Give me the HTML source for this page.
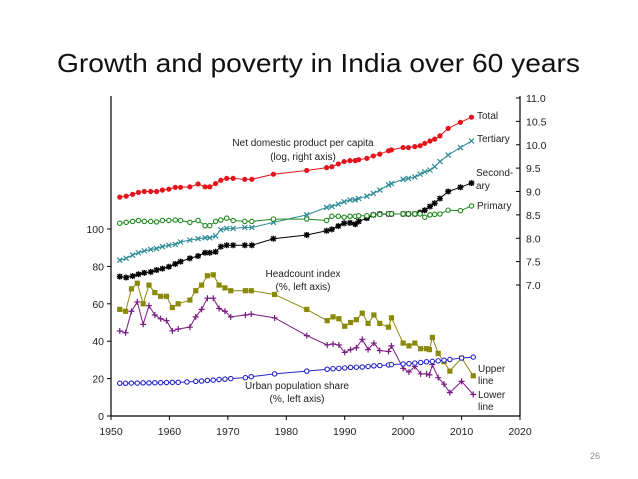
<!DOCTYPE html>
<html><head><meta charset="utf-8"><style>
body{margin:0;background:#fff;}
svg{display:block;font-family:"Liberation Sans",sans-serif;}
</style></head><body>
<svg id="chart" width="638" height="479" viewBox="0 0 638 479" xmlns="http://www.w3.org/2000/svg">
<text x="57" y="72" font-size="26" textLength="523" lengthAdjust="spacingAndGlyphs" fill="#111" font-family="Liberation Sans, sans-serif">Growth and poverty in India over 60 years</text>
<text x="590" y="459" font-size="9" fill="#888">26</text>
<g id="axes"></g>
<g id="series"></g>
<g font-size="10" fill="#222">
<text x="477" y="119">Total</text>
<text x="477" y="142">Tertiary</text>
<text x="476" y="176">Second-</text>
<text x="476" y="189">ary</text>
<text x="477" y="209">Primary</text>
<text x="303" y="146" text-anchor="middle">Net domestic product per capita</text>
<text x="303" y="160" text-anchor="middle">(log, right axis)</text>
<text x="303" y="277" text-anchor="middle">Headcount index</text>
<text x="303" y="290" text-anchor="middle">(%, left axis)</text>
<text x="297" y="389" text-anchor="middle">Urban population share</text>
<text x="297" y="402" text-anchor="middle">(%, left axis)</text>
<text x="478" y="372">Upper</text>
<text x="478" y="384">line</text>
<text x="478" y="398">Lower</text>
<text x="478" y="410">line</text>
</g>
</svg>
<script>
const xTicks=[1950,1960,1970,1980,1990,2000,2010,2020];
const leftTicks=[0,20,40,60,80,100];
const rightTicks=[7.0,7.5,8.0,8.5,9.0,9.5,10.0,10.5,11.0];
const ndpYears=[1951.5,1952.6,1953.7,1954.7,1955.7,1956.8,1957.8,1958.8,1959.9,1961,1961.9,1963.5,1964.9,1966.1,1966.9,1967.9,1968.8,1969.8,1970.9,1972.9,1974.1,1977.8,1983.5,1986.9,1987.8,1988.9,1989.9,1990.9,1991.8,1992.4,1993.8,1994.9,1996,1997.5,1998,2000,2000.9,2002,2002.9,2003.7,2004.6,2005.4,2006.3,2007.7,2009.8,2011.7];
const totalVals=[8.88,8.9,8.94,8.98,9.0,9.0,9.0,9.03,9.05,9.09,9.09,9.1,9.16,9.1,9.1,9.17,9.24,9.28,9.28,9.26,9.26,9.37,9.45,9.51,9.53,9.59,9.64,9.66,9.66,9.68,9.71,9.76,9.8,9.87,9.89,9.94,9.94,9.96,9.98,10.03,10.08,10.12,10.19,10.35,10.48,10.59];
const tertVals=[7.53,7.57,7.64,7.69,7.73,7.76,7.78,7.82,7.85,7.87,7.92,7.96,7.99,8.01,8.01,8.05,8.18,8.21,8.21,8.23,8.23,8.34,8.5,8.66,8.68,8.73,8.78,8.82,8.82,8.85,8.9,8.96,9.03,9.14,9.17,9.26,9.28,9.31,9.37,9.42,9.46,9.53,9.64,9.78,9.94,10.08];
const secVals=[7.18,7.16,7.19,7.23,7.26,7.28,7.32,7.35,7.39,7.45,7.5,7.57,7.62,7.69,7.69,7.71,7.82,7.85,7.85,7.85,7.85,7.99,8.07,8.16,8.19,8.26,8.32,8.33,8.3,8.36,8.43,8.5,8.52,8.52,8.52,8.52,8.52,8.52,8.55,8.6,8.68,8.75,8.85,9.0,9.09,9.18];
const primVals=[8.32,8.34,8.36,8.38,8.36,8.36,8.35,8.38,8.38,8.39,8.38,8.34,8.38,8.27,8.27,8.36,8.39,8.43,8.38,8.36,8.36,8.41,8.41,8.38,8.47,8.47,8.45,8.47,8.47,8.48,8.48,8.5,8.51,8.52,8.52,8.52,8.52,8.52,8.52,8.45,8.5,8.51,8.52,8.6,8.59,8.69];
const headYears=[1951.5,1952.5,1953.5,1954.5,1955.5,1956.5,1957.5,1958.5,1959.5,1960.5,1961.5,1963.5,1964.5,1965.5,1966.5,1967.5,1968.5,1969.5,1970.5,1973,1974,1978,1983.5,1987,1988,1989,1990,1991,1992,1993,1994,1995,1996,1997.5,1998,2000,2001,2002,2003,2004,2004.5,2005,2006,2007,2008,2010,2012];
const upperVals=[57,56,68,71,60,70,66,64,64,58,60,62,67,70,75,75.5,70,68.5,67,67,67,65,57,51,53,52,48,50,51.5,55,49.5,54,49.5,47.5,52.5,39,37.5,39,36,36,35.5,42,33.5,29,24,31,21.5];
const lowerVals=[45.5,44.5,56,61,49,59,54,52,51,45.5,46.5,47.5,53,57,63,63,57.5,56,53,54,54.5,52.5,43,38,38.5,38,34,35.5,36.5,41,35.5,39,35,34.5,37.5,25.5,23.5,26.5,22.5,22.5,22,27.5,20.5,17,12.5,18.5,11.5];
const urbanYears=[1951.5,1952.5,1953.5,1954.5,1955.5,1956.5,1957.5,1958.5,1959.5,1960.5,1961.5,1963,1964.5,1965.5,1966.5,1967.5,1968.5,1969.5,1970.5,1973,1974,1978,1983.5,1987,1988,1989,1990,1991,1992,1993,1994,1995,1996,1997.5,1998,2000,2001,2002,2003,2004,2005,2006,2007,2008,2010,2012];
const urbanVals=[17.5,17.5,17.6,17.6,17.7,17.7,17.8,17.8,17.9,18,18,18.2,18.5,18.7,19,19.2,19.5,19.7,20,20.5,21,22.5,24,25,25.3,25.5,25.7,26,26.1,26.2,26.5,26.8,27,27.3,27.5,27.8,28,28.3,28.6,29,29.2,29.5,29.8,30.2,31,31.5];

const NS='http://www.w3.org/2000/svg';
const X0=111,X1=520,YB=416;
const xs=y=>X0+(y-1950)/70*(X1-X0);
const yl=v=>YB-v*1.87;
const yr=v=>98+(11-v)*46.75;
function mk(tag,attrs,parent){const e=document.createElementNS(NS,tag);for(const k in attrs)e.setAttribute(k,attrs[k]);parent.appendChild(e);return e;}
const axes=document.getElementById('axes');
let e;
e=mk('line',{x1:X0,y1:96,x2:X0,y2:YB,stroke:'#000','stroke-width':1.2},axes);


e=mk('line',{x1:X1,y1:96,x2:X1,y2:YB,stroke:'#000','stroke-width':1.2},axes);


e=mk('line',{x1:X0,y1:YB,x2:X1,y2:YB,stroke:'#000','stroke-width':1.2},axes);


xTicks.forEach(t=>{
 mk('line',{x1:xs(t),y1:YB,x2:xs(t),y2:YB+4,stroke:'#000'},axes);
 e=mk('text',{x:xs(t),y:YB+19,'font-size':10.5,'text-anchor':'middle',fill:'#222'},axes);e.textContent=t;
 
 
});
leftTicks.forEach(t=>{
 mk('line',{x1:X0-4,y1:yl(t),x2:X0,y2:yl(t),stroke:'#000'},axes);
 e=mk('text',{x:X0-7,y:yl(t)+4,'font-size':10.5,'text-anchor':'end',fill:'#222'},axes);e.textContent=t;
 
 
});
rightTicks.forEach(t=>{
 mk('line',{x1:X1-4,y1:yr(t),x2:X1,y2:yr(t),stroke:'#000'},axes);
 e=mk('text',{x:X1+6,y:yr(t)+4,'font-size':10.5,fill:'#222'},axes);e.textContent=t.toFixed(1);
 
 
});
const sg=document.getElementById('series');
function series(name,years,vals,yf,color,marker){
 const g=mk('g',{},sg);
 
 
 const pts=years.map((y,i)=>[xs(y),yf(vals[i])]);
 mk('polyline',{points:pts.map(p=>p.join(',')).join(' '),fill:'none',stroke:color,'stroke-width':1},g);
 pts.forEach(([x,y])=>{
  let m;
  if(marker==='dot')m=mk('circle',{cx:x,cy:y,r:2.6,fill:color},g);
  else if(marker==='ring')m=mk('circle',{cx:x,cy:y,r:2.2,fill:'#fff',stroke:color,'stroke-width':1.1},g);
  else if(marker==='square')m=mk('rect',{x:x-2.6,y:y-2.6,width:5.2,height:5.2,fill:color},g);
  else if(marker==='x')m=mk('path',{d:`M${x-2.5},${y-2.5}L${x+2.5},${y+2.5}M${x-2.5},${y+2.5}L${x+2.5},${y-2.5}`,stroke:color,'stroke-width':1.2},g);
  else if(marker==='plus')m=mk('path',{d:`M${x-3},${y}L${x+3},${y}M${x},${y-3}L${x},${y+3}`,stroke:color,'stroke-width':1.2},g);
  else m=mk('path',{d:`M${x-3},${y}L${x+3},${y}M${x},${y-3}L${x},${y+3}M${x-2.3},${y-2.3}L${x+2.3},${y+2.3}M${x-2.3},${y+2.3}L${x+2.3},${y-2.3}`,stroke:color,'stroke-width':1.4},g);
  
  
 });
}
series('total-series',ndpYears,totalVals,yr,'#e3141b','dot');
series('tertiary-series',ndpYears,tertVals,yr,'#2a8a96','x');
series('secondary-series',ndpYears,secVals,yr,'#000','star');
series('primary-series',ndpYears,primVals,yr,'#1e8a1e','ring');
series('headcount-upper-series',headYears,upperVals,yl,'#8a8a0a','square');
series('headcount-lower-series',headYears,lowerVals,yl,'#7a1a82','plus');
series('urban-share-series',urbanYears,urbanVals,yl,'#2626c8','ring');
</script>
</body></html>
